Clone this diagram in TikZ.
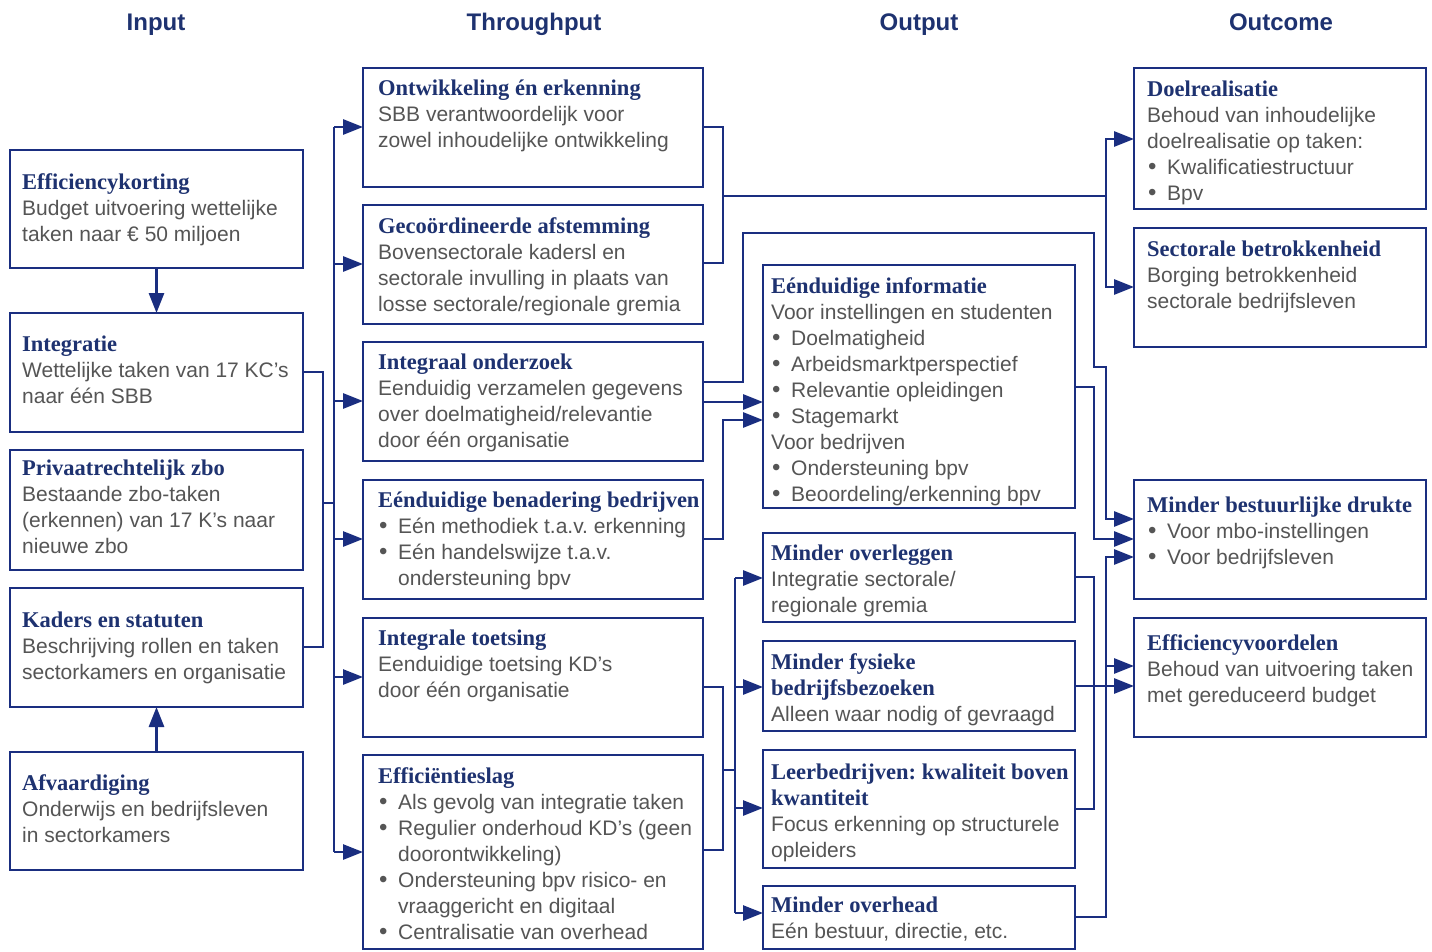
\documentclass[tikz,border=0pt]{standalone}
\usepackage{fontspec}
\setmainfont{Liberation Sans}
\newfontfamily\serifb{Liberation Serif}
\usetikzlibrary{arrows.meta}
\frenchspacing
\definecolor{lineblue}{RGB}{26,46,128}
\definecolor{titleblue}{RGB}{30,50,112}
\definecolor{txtgray}{RGB}{85,85,85}
\newcommand\ttl[1]{{\serifb\bfseries\color{titleblue}\fontsize{22.5}{26}\selectfont #1}}
\newcommand\bul{\makebox[20pt][l]{\hspace{1pt}\raisebox{0pt}{\fontsize{24}{24}\selectfont\textbullet}}}
\newcommand\ind{\hspace*{20pt}}
\newcommand\fs{\rule{0pt}{15pt}}
\newcommand\mybox[5]{\node[bx, anchor=north west, minimum width={#4-#2}, minimum height={#5-#3}] (#1) at (#2,-#3) {};}
\tikzset{
 bx/.style={draw=lineblue, line width=2.8pt, fill=white, inner sep=0pt, outer sep=0pt, rectangle},
 txt/.style={anchor=north west, inner sep=0pt, align=left, text=txtgray, font=\fontsize{21}{26}\selectfont\frenchspacing},
 hdr/.style={text=titleblue, font=\bfseries\fontsize{24}{28}\selectfont, inner sep=0pt, anchor=base},
 conn/.style={draw=lineblue, line width=2.8pt, line join=miter},
 arr/.style={conn, -{Triangle[length=20pt,width=15pt]}},
}
\begin{document}
\begin{tikzpicture}[x=1pt,y=1pt]
\useasboundingbox (0,0) rectangle (1432,-951);
% headers
\node[hdr] (hin) at (156,-30) {Input};
\node[hdr] (hthr) at (534,-30) {Throughput};
\node[hdr] (hout) at (919,-30) {Output};
\node[hdr] (hoc) at (1281,-30) {Outcome};
% input boxes
\mybox{eff}{10}{150}{303}{268}
\mybox{integ}{10}{313}{303}{432}
\mybox{zbo}{10}{450}{303}{570}
\mybox{kad}{10}{588}{303}{707}
\mybox{afv}{10}{752}{303}{870}
% throughput boxes
\mybox{ontw}{363}{68}{703}{187}
\mybox{geco}{363}{205}{703}{324}
\mybox{ondz}{363}{342}{703}{461}
\mybox{benad}{363}{480}{703}{599}
\mybox{toets}{363}{618}{703}{737}
\mybox{effsl}{363}{755}{703}{949}
% output boxes
\mybox{info}{763}{265}{1075}{508}
\mybox{overl}{763}{533}{1075}{622}
\mybox{fys}{763}{641}{1075}{731}
\mybox{leer}{763}{750}{1075}{868}
\mybox{overh}{763}{886}{1075}{949}
% outcome boxes
\mybox{doel}{1134}{68}{1426}{209}
\mybox{sect}{1134}{228}{1426}{347}
\mybox{drukte}{1134}{480}{1426}{599}
\mybox{effv}{1134}{618}{1426}{737}
% texts
\node[txt] (eff-t) at (22,-173) {\fs\ttl{Efficiencykorting}\\Budget uitvoering wettelijke\\taken naar € 50 miljoen};
\node[txt] (integ-t) at (22,-336) {\fs\ttl{Integratie}\\Wettelijke taken van 17 KC’s\\naar één SBB};
\node[txt] (zbo-t) at (22,-460) {\fs\ttl{Privaatrechtelijk zbo}\\Bestaande zbo-taken\\(erkennen) van 17 K’s naar\\nieuwe zbo};
\node[txt] (kad-t) at (22,-612) {\fs\ttl{Kaders en statuten}\\Beschrijving rollen en taken\\sectorkamers en organisatie};
\node[txt] (afv-t) at (22,-774) {\fs\ttl{Afvaardiging}\\Onderwijs en bedrijfsleven\\in sectorkamers};
\node[txt] (ontw-t) at (378,-80) {\fs\ttl{Ontwikkeling én erkenning}\\SBB verantwoordelijk voor\\zowel inhoudelijke ontwikkeling};
\node[txt] (geco-t) at (378,-217) {\fs\ttl{Gecoördineerde afstemming}\\Bovensectorale kadersl en\\sectorale invulling in plaats van\\losse sectorale/regionale gremia};
\node[txt] (ondz-t) at (378,-354) {\fs\ttl{Integraal onderzoek}\\Eenduidig verzamelen gegevens\\over doelmatigheid/relevantie\\door één organisatie};
\node[txt] (benad-t) at (378,-492) {\fs\ttl{Eénduidige benadering bedrijven}\\\bul Eén methodiek t.a.v. erkenning\\\bul Eén handelswijze t.a.v.\\\ind ondersteuning bpv};
\node[txt] (toets-t) at (378,-630) {\fs\ttl{Integrale toetsing}\\Eenduidige toetsing KD’s\\door één organisatie};
\node[txt] (effsl-t) at (378,-767) {\fs\ttl{Efficiëntieslag}\\\bul Als gevolg van integratie taken\\\bul Regulier onderhoud KD’s (geen\\\ind doorontwikkeling)\\\bul Ondersteuning bpv risico- en\\\ind vraaggericht en digitaal\\\bul Centralisatie van overhead};
\node[txt] (info-t) at (771,-277) {\fs\ttl{Eénduidige informatie}\\Voor instellingen en studenten\\\bul Doelmatigheid\\\bul Arbeidsmarktperspectief\\\bul Relevantie opleidingen\\\bul Stagemarkt\\Voor bedrijven\\\bul Ondersteuning bpv\\\bul Beoordeling/erkenning bpv};
\node[txt] (overl-t) at (771,-545) {\fs\ttl{Minder overleggen}\\Integratie sectorale/\\regionale gremia};
\node[txt] (fys-t) at (771,-653) {\fs\ttl{Minder fysieke}\\\ttl{bedrijfsbezoeken}\\Alleen waar nodig of gevraagd};
\node[txt] (leer-t) at (771,-764) {\fs\ttl{Leerbedrijven: kwaliteit boven}\\\ttl{kwantiteit}\\Focus erkenning op structurele\\opleiders};
\node[txt] (overh-t) at (771,-897) {\fs\ttl{Minder overhead}\\Eén bestuur, directie, etc.};
\node[txt] (doel-t) at (1147,-81) {\fs\ttl{Doelrealisatie}\\Behoud van inhoudelijke\\doelrealisatie op taken:\\\bul Kwalificatiestructuur\\\bul Bpv};
\node[txt] (sect-t) at (1147,-241) {\fs\ttl{Sectorale betrokkenheid}\\Borging betrokkenheid\\sectorale bedrijfsleven};
\node[txt] (drukte-t) at (1147,-497) {\fs\ttl{Minder bestuurlijke drukte}\\\bul Voor mbo-instellingen\\\bul Voor bedrijfsleven};
\node[txt] (effv-t) at (1147,-634) {\fs\ttl{Efficiencyvoordelen}\\Behoud van uitvoering taken\\met gereduceerd budget};
% junction coordinates
\coordinate (jA) at (323,-503);
\coordinate (busA) at (334,-503);
\coordinate (jB) at (723,-196);
\coordinate (busB) at (1106,-196);
\coordinate (jC) at (723,-770);
\coordinate (busC) at (735,-770);
% input connectors
\draw[arr] (eff.south) -- (integ.north);
\draw[arr] (afv.north) -- (kad.south);
\draw[conn] (integ.east |- 0,-372) -- (323,-372) -- (323,-647) -- (kad.east |- 0,-647);
\draw[conn] (jA) -- (busA);
\draw[conn] (334,-127) -- (334,-852);
\foreach \n/\y in {ontw/127, geco/264, ondz/401, benad/539, toets/677, effsl/852}
  \draw[arr] (334,-\y) -- (\n.west |- 0,-\y);
% throughput connectors
\draw[conn] (ontw.east |- 0,-127) -- (723,-127) -- (723,-263) -- (geco.east |- 0,-263);
\draw[conn] (jB) -- (busB);
\draw[arr] (busB) |- (doel.west |- 0,-139);
\draw[arr] (busB) |- (sect.west |- 0,-287);
\draw[arr] (ondz.east |- 0,-382) -- (743,-382) -- (743,-233) -- (1094,-233) -- (1094,-367) -- (1106,-367) -- (1106,-519) -- (drukte.west |- 0,-519);
\draw[arr] (ondz.east |- 0,-402) -- (info.west |- 0,-402);
\draw[arr] (benad.east |- 0,-539) -- (723,-539) -- (723,-420) -- (info.west |- 0,-420);
\draw[conn] (toets.east |- 0,-687) -- (723,-687) -- (723,-850) -- (effsl.east |- 0,-850);
\draw[conn] (jC) -- (busC);
\draw[conn] (735,-578) -- (735,-913);
\foreach \n/\y in {overl/578, fys/687, leer/808, overh/913}
  \draw[arr] (735,-\y) -- (\n.west |- 0,-\y);
% output connectors
\draw[arr] (info.east |- 0,-387) -- (1094,-387) -- (1094,-539) -- (drukte.west |- 0,-539);
\draw[conn] (overl.east |- 0,-577) -- (1094,-577) -- (1094,-809) -- (leer.east |- 0,-809);
\draw[arr] (fys.east |- 0,-686) -- (effv.west |- 0,-686);
\draw[arr] (overh.east |- 0,-917) -- (1106,-917) -- (1106,-557) -- (drukte.west |- 0,-557);
\draw[arr] (1106,-666) -- (effv.west |- 0,-666);
\end{tikzpicture}
\end{document}
